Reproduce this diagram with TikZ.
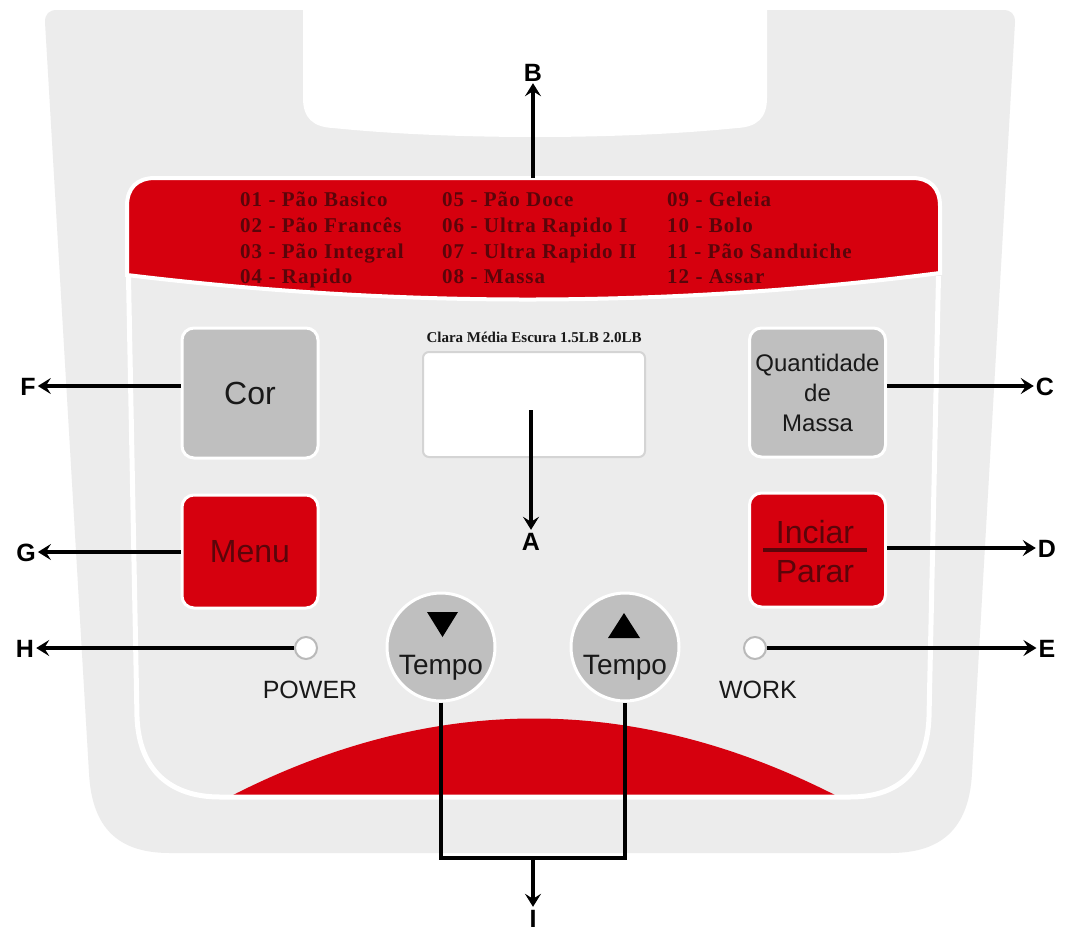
\documentclass[tikz,border=0pt]{standalone}
\usepackage{fontspec}
\setmainfont{Liberation Sans}
\newfontfamily\bandfam{Liberation Serif}[LetterSpace=5]
\newfontfamily\clarafam{Liberation Serif}
\usetikzlibrary{arrows.meta}
\definecolor{bandred}{RGB}{214,0,14}
\definecolor{maroon}{RGB}{90,5,10}
\definecolor{panelgray}{RGB}{236,236,236}
\definecolor{btngray}{RGB}{191,191,191}
\definecolor{darktxt}{RGB}{25,25,25}
\definecolor{ledgray}{RGB}{185,185,185}
\definecolor{lcdborder}{RGB}{212,212,212}
\begin{document}
\begin{tikzpicture}[x=1pt,y=-1pt,
  conn/.style={line width=3.2pt,-{Stealth[length=13pt,width=16pt,inset=5pt]}},
  wire/.style={line width=3.2pt},
  lab/.style={font=\fontsize{25}{25}\selectfont\bfseries,text=black,text height=18pt,text depth=0pt,inner sep=2pt},
  graybtn/.style={rectangle,rounded corners=12pt,fill=btngray,draw=white,line width=3pt,minimum width=136pt,inner sep=0pt,text=darktxt},
  redbtn/.style={rectangle,rounded corners=12pt,fill=bandred,draw=white,line width=3pt,minimum width=136pt,inner sep=0pt,text=maroon},
  tempobtn/.style={circle,fill=btngray,draw=white,line width=3pt,minimum size=108pt,inner sep=0pt},
  led/.style={circle,fill=white,draw=ledgray,line width=2pt,minimum size=22pt,inner sep=0pt},
  bandtxt/.style={anchor=west,inner sep=0pt,text height=14pt,text depth=0pt,text=maroon,font=\bandfam\bfseries\fontsize{21}{21}\selectfont},
  smalltxt/.style={inner sep=0pt,text=darktxt,font=\fontsize{25}{25}\selectfont},
  btntxt/.style={inner sep=0pt,text=maroon,font=\fontsize{32}{32}\selectfont}
]
\useasboundingbox (0,0) rectangle (1068,940);
\fill[white] (0,0) rectangle (1068,940);
% panel body
\fill[panelgray] (57,10) -- (1003,10) .. controls (1011,10) and (1015,14) .. (1015,22)
  -- (972,773) .. controls (969,830) and (940,853) .. (890,853) -- (170,853)
  .. controls (120,853) and (92,830) .. (89,773) -- (45,22)
  .. controls (45,14) and (49,10) .. (57,10) -- cycle;
% top notch
\fill[white] (303,0) -- (303,98) .. controls (303,118) and (313,127) .. (333,128)
  .. controls (450,140) and (620,140) .. (737,128)
  .. controls (757,127) and (767,118) .. (767,98) -- (767,0) -- cycle;
% red programme band
\filldraw[fill=bandred,draw=white,line width=4pt] (155,178) -- (912,178)
  .. controls (930,178) and (940,188) .. (940,206) -- (940,273)
  .. controls (669,308) and (398,308) .. (127,275) -- (127,206)
  .. controls (127,188) and (137,178) .. (155,178) -- cycle;
% bottom red arc
\fill[bandred] (233,795) .. controls (434,693) and (634,693) .. (835,795) -- cycle;
% inner white outline
\draw[white,line width=5pt] (128.5,277) -- (137,717) .. controls (139,770) and (170,797) .. (220,797)
  -- (850,797) .. controls (900,797) and (927,770) .. (929,717) -- (938.5,276);
% band text
\node[bandtxt] (t1) at (240,199) {01 - Pão Basico};
\node[bandtxt] (t2) at (240,225) {02 - Pão Francês};
\node[bandtxt] (t3) at (240,251) {03 - Pão Integral};
\node[bandtxt] (t4) at (240,276) {04 - Rapido};
\node[bandtxt] (t5) at (442,199) {05 - Pão Doce};
\node[bandtxt] (t6) at (442,225) {06 - Ultra Rapido I};
\node[bandtxt] (t7) at (442,251) {07 - Ultra Rapido II};
\node[bandtxt] (t8) at (442,276) {08 - Massa};
\node[bandtxt] (t9) at (667,199) {09 - Geleia};
\node[bandtxt] (t10) at (667,225) {10 - Bolo};
\node[bandtxt] (t11) at (667,251) {11 - Pão Sanduiche};
\node[bandtxt] (t12) at (667,276) {12 - Assar};
% buttons
\node[graybtn,minimum height=130pt,font=\fontsize{32}{32}\selectfont] (cor) at (250,393) {Cor};
\node[graybtn,minimum height=129pt,align=center,font=\fontsize{24}{30}\selectfont] (qty) at (817.5,392.5) {Quantidade\\de\\Massa};
\node[redbtn,minimum height=113pt,font=\fontsize{32}{32}\selectfont] (menu) at (250,551.5) {Menu};
\node[redbtn,minimum height=114pt] (start) at (817.5,550) {};
\node[btntxt] (inciar) at (815,532) {Inciar};
\draw[maroon,line width=3.5pt] (763,550) -- (867,550);
\node[btntxt] (parar) at (815,572) {Parar};
% display
\node[draw=lcdborder,fill=white,rounded corners=6pt,line width=2pt,minimum width=222pt,minimum height=105pt,inner sep=0pt] (lcd) at (534,404.5) {};
\node[inner sep=0pt,text=darktxt,font=\clarafam\bfseries\fontsize{15}{15}\selectfont] (clara) at (534,337) {Clara Média Escura 1.5LB 2.0LB};
% LEDs
\node[led] (pled) at (306,648) {};
\node[led] (wled) at (755,648) {};
\node[smalltxt] (power) at (310,690) {POWER};
\node[smalltxt] (work) at (758,690) {WORK};
% Tempo buttons
\node[tempobtn] (tl) at (441,647) {};
\node[tempobtn] (tr) at (625,647) {};
\fill[black] (427,612) -- (458,612) -- (442.5,637) -- cycle;
\fill[black] (608,638) -- (640,638) -- (624,613) -- cycle;
\node[anchor=base,inner sep=0pt,text=darktxt,font=\fontsize{28}{28}\selectfont] (tlt) at (441,674) {Tempo};
\node[anchor=base,inner sep=0pt,text=darktxt,font=\fontsize{28}{28}\selectfont] (trt) at (625,674) {Tempo};
% labels
\node[lab] (B) at (533,72) {B};
\node[lab] (A) at (531,541) {A};
\node[lab] (F) at (28,386) {F};
\node[lab] (G) at (26,552) {G};
\node[lab] (H) at (25,648) {H};
\node[lab] (C) at (1045,386) {C};
\node[lab] (D) at (1047,548) {D};
\node[lab] (E) at (1047,648) {E};
\node[lab] (I) at (533,918) {I};
% connectors
\coordinate (bandtop) at (533,178);
\coordinate (astart) at (531,410);
\coordinate (bus) at (533,858);
\draw[conn] (bandtop) -- (B);
\draw[conn] (astart) -- (A);
\draw[conn] (cor.west |- F) -- (F);
\draw[conn] (menu.west |- G) -- (G);
\draw[conn] (pled) -- (H);
\draw[conn] (qty.east |- C) -- (C);
\draw[conn] (start.east |- D) -- (D);
\draw[conn] (wled) -- (E);
\draw[wire] (tl.south) -- (tl.south |- bus) -- (tr.south |- bus) -- (tr.south);
\draw[conn] (bus) -- (I);
\end{tikzpicture}
\end{document}
